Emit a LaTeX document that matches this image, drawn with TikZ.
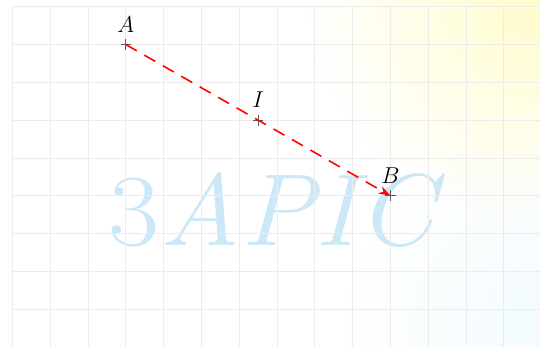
\documentclass[tikz,border=0pt]{standalone}
\usetikzlibrary{arrows.meta,fadings}
\tikzfading[name=glow,inner color=transparent!0,outer color=transparent!100]
\definecolor{wm}{RGB}{204,232,248}
\definecolor{gridc}{RGB}{236,236,236}
\tikzset{
  gridline/.style={draw=gridc,line width=0.7pt},
  markcross/.style={draw=black!65,line width=0.6pt},
  seg/.style={red,line width=1.2pt,dash pattern=on 9.5pt off 6.5pt,-{Stealth[length=9pt,width=6pt]}},
  ptlabel/.style={font=\LARGE,inner sep=0pt}
}
\begin{document}
\begin{tikzpicture}
\useasboundingbox (-0.33,0) rectangle (13.957,9.18);
\fill[white] (-0.33,0) rectangle (13.957,9.18);
\begin{scope}
\clip (-0.33,0) rectangle (13.957,9.18);
\fill[yellow!22,path fading=glow] (14.3,9.6) circle (6.5);
\fill[cyan!5,path fading=glow] (14.3,0.2) circle (5.5);
\end{scope}
\node[text=wm,inner sep=0,xscale=1.09] (wmark) at (6.86,3.62) {\fontsize{77}{80}\selectfont 3\itshape APIC};
\draw[gridline] (0,0) grid (14,9);
\coordinate (A) at (3,8);
\coordinate (I) at (6.5,6);
\coordinate (B) at (10,4);
\foreach \p in {A,I,B}{
  \draw[markcross] ([xshift=-4pt]\p) -- ([xshift=4pt]\p);
  \draw[markcross] ([yshift=-4pt]\p) -- ([yshift=4pt]\p);
}
\node[ptlabel,above=9pt] (lA) at (A) {$A$};
\node[ptlabel,above=9pt] (lI) at (I) {$I$};
\node[ptlabel,above=9pt] (lB) at (B) {$B$};
\draw[seg] (A) -- (B);
\end{tikzpicture}
\end{document}
